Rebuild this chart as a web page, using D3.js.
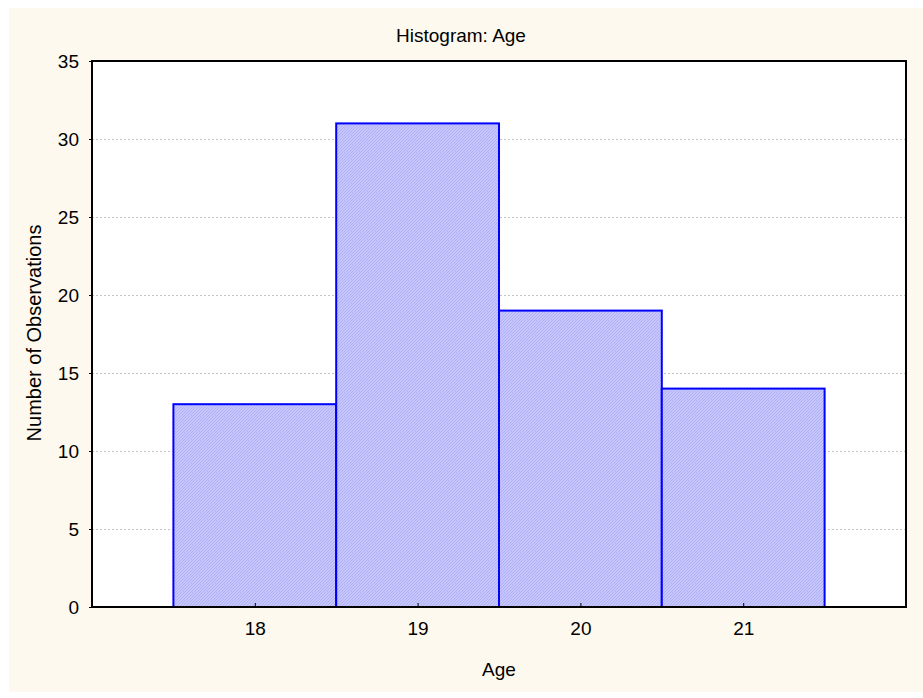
<!DOCTYPE html>
<html><head><meta charset="utf-8">
<script src="https://cdn.jsdelivr.net/npm/d3@7"></script>
<style>body{margin:0;background:#fff}svg{display:block;font-family:"Liberation Sans",Arial,sans-serif}</style>
</head><body>
<svg id="c" width="923" height="698"></svg>
<script>
const categories = [18, 19, 20, 21];
const counts = [13, 31, 19, 14];
const yTicks = [0, 5, 10, 15, 20, 25, 30, 35];
const title = "Histogram: Age";
const xLabel = "Age";
const yLabel = "Number of Observations";

const svg = d3.select("#c");
svg.append("rect").attr("x", 9).attr("y", 8).attr("width", 914).attr("height", 684).attr("fill", "#fef9ee");

const defs = svg.append("defs");
const pat = defs.append("pattern").attr("id", "hatch").attr("patternUnits", "userSpaceOnUse")
  .attr("width", 3).attr("height", 3);
pat.append("rect").attr("width", 3).attr("height", 3).attr("fill", "#c6c6fc");
pat.append("path").attr("d", "M0,3 L3,0 M-1,1 L1,-1 M2,4 L4,2").attr("stroke", "#b0b0f4").attr("stroke-width", 1);

const L = 92, R = 906, T = 61, B = 607;
const x = d3.scaleLinear().domain([17, 22]).range([L, R]);
const y = d3.scaleLinear().domain([0, 35]).range([B, T]);

svg.append("rect").attr("x", L).attr("y", T).attr("width", R - L).attr("height", B - T).attr("fill", "#fff");

// gridlines
svg.append("g").selectAll("line").data(yTicks.filter(d => d > 0 && d < 35)).join("line")
  .attr("x1", L).attr("x2", R).attr("y1", d => y(d) + 0.5).attr("y2", d => y(d) + 0.5)
  .attr("stroke", "#c4c4c4").attr("stroke-dasharray", "2,2").attr("stroke-width", 1);

// bars
svg.append("g").selectAll("rect").data(categories).join("rect")
  .attr("x", d => x(d - 0.5)).attr("width", d => x(d + 0.5) - x(d - 0.5))
  .attr("y", (d, i) => y(counts[i])).attr("height", (d, i) => y(0) - y(counts[i]))
  .attr("fill", "url(#hatch)").attr("stroke", "#0000ff").attr("stroke-width", 2);

// frame
svg.append("rect").attr("x", L).attr("y", T).attr("width", R - L).attr("height", B - T)
  .attr("fill", "none").attr("stroke", "#000").attr("stroke-width", 2);

const font = "Liberation Sans, Arial, sans-serif";
// y axis
const ya = d3.axisLeft(y).tickValues(yTicks).tickSize(3).tickPadding(10);
const gy = svg.append("g").attr("transform", `translate(${L},0)`).call(ya);
gy.select(".domain").remove();
gy.selectAll("text").attr("font-size", 19).attr("fill", "#000").attr("font-family", font);

// x axis
const xa = d3.axisBottom(x).tickValues(categories).tickSize(-4).tickPadding(15).tickFormat(d3.format("d"));
const gx = svg.append("g").attr("transform", `translate(0,${B})`).call(xa);
gx.select(".domain").remove();
gx.selectAll("text").attr("font-size", 19).attr("fill", "#000").attr("font-family", font);

svg.append("text").attr("x", 461).attr("y", 42).attr("text-anchor", "middle").attr("font-size", 19).text(title);
svg.append("text").attr("x", (L + R) / 2).attr("y", 676).attr("text-anchor", "middle").attr("font-size", 19).text(xLabel);
svg.append("text").attr("transform", `translate(41,${(T + B) / 2 - 1}) rotate(-90)`).attr("text-anchor", "middle").attr("font-size", 20).text(yLabel);
</script>
</body></html>
